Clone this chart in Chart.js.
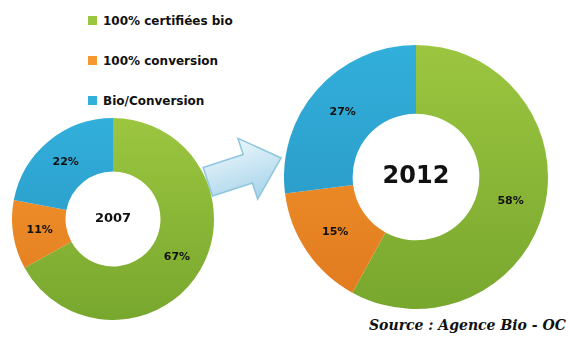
<!DOCTYPE html>
<html>
<head>
<meta charset="utf-8">
<script src="https://cdn.jsdelivr.net/npm/chart.js@4"></script>
<style>
  body { margin: 0; background: #fff; }
  #wrap { position: relative; width: 570px; height: 342px; overflow: hidden; font-family: "DejaVu Sans", sans-serif; }
  canvas { position: absolute; }
  #small { left: 12px; top: 118px; }
  #big { left: 284px; top: 44px; }
  .leg { position: absolute; left: 88px; font-weight: bold; font-size: 12px; color: #111; white-space: nowrap; }
  .leg i { display: inline-block; width: 9px; height: 9px; margin-right: 6px; vertical-align: 0px; }
  #arrow { position: absolute; left: 196px; top: 120px; }
  #source { position: absolute; left: 369px; top: 317px; font-family: "DejaVu Serif", serif; font-style: italic; font-weight: bold; font-size: 14px; color: #111; white-space: nowrap; }
</style>
</head>
<body>
<div id="wrap">
  <div id="legend"></div>
  <svg id="arrow" width="100" height="96" viewBox="0 0 100 96">
    <defs>
      <linearGradient id="ag" x1="0" y1="0" x2="0" y2="1">
        <stop offset="0" stop-color="#eaf6fc"/>
        <stop offset="1" stop-color="#a6d3e9"/>
      </linearGradient>
    </defs>
    <g transform="translate(48,50) rotate(-18)">
      <polygon points="-38,-15 4,-15 4,-32 39,0 4,32 4,15 -38,15" fill="url(#ag)" stroke="#8ec6de" stroke-width="1.5"/>
    </g>
  </svg>
  <canvas id="small" width="202" height="202"></canvas>
  <canvas id="big" width="264" height="266"></canvas>
  <div id="source">Source : Agence Bio - OC</div>
</div>
<script>
const categories = ["100% certifiées bio", "100% conversion", "Bio/Conversion"];
const values2007 = [67, 11, 22];
const values2012 = [58, 15, 27];
const years = ["2007", "2012"];

const topColors = ["#9cc640", "#f5982f", "#32afdb"];
const bottomColors = ["#78a72e", "#e07a1e", "#2791bf"];

// legend rows
const legendTops = [14, 54, 94];
const legend = document.getElementById("legend");
categories.forEach((c, i) => {
    const d = document.createElement("div");
    d.className = "leg";
    d.style.top = legendTops[i] + "px";
    d.innerHTML = '<i style="background:' + topColors[i] + '"></i>';
    d.appendChild(document.createTextNode(c));
    legend.appendChild(d);
});

function fill(context) {
    const chart = context.chart;
    const area = chart.chartArea;
    if (!area) return topColors[context.dataIndex];
    const g = chart.ctx.createLinearGradient(0, area.top, 0, area.bottom);
    g.addColorStop(0, topColors[context.dataIndex]);
    g.addColorStop(1, bottomColors[context.dataIndex]);
    return g;
}

// percentage in each slice + year in the hole
const labelsPlugin = {
    id: "sliceLabels",
    afterDatasetsDraw(chart, args, opts) {
        const ctx = chart.ctx;
        const meta = chart.getDatasetMeta(0);
        const data = chart.data.datasets[0].data;
        ctx.save();
        ctx.fillStyle = "#111";
        ctx.textAlign = "center";
        ctx.textBaseline = "middle";
        ctx.font = "bold " + opts.size + "px 'DejaVu Sans', sans-serif";
        meta.data.forEach((arc, i) => {
            const p = arc.tooltipPosition();
            ctx.fillText(data[i] + "%", p.x, p.y);
        });
        const a = meta.data[0];
        ctx.font = "bold " + opts.yearSize + "px 'DejaVu Sans', sans-serif";
        ctx.fillText(opts.year, a.x, a.y);
        ctx.restore();
    }
};

function donut(id, values, year, size, yearSize, cut) {
    return new Chart(document.getElementById(id), {
        type: "doughnut",
        data: {
            labels: categories,
            datasets: [{
                data: values,
                backgroundColor: fill,
                borderWidth: 0
            }]
        },
        options: {
            responsive: false,
            animation: false,
            cutout: cut,
            layout: {padding: 0},
            plugins: {
                legend: {display: false},
                tooltip: {enabled: false},
                sliceLabels: {year: year, size: size, yearSize: yearSize}
            }
        },
        plugins: [labelsPlugin]
    });
}

donut("small", values2007, years[0], 11, 13, "47%");
donut("big", values2012, years[1], 11, 24, "48%");
</script>
</body>
</html>
